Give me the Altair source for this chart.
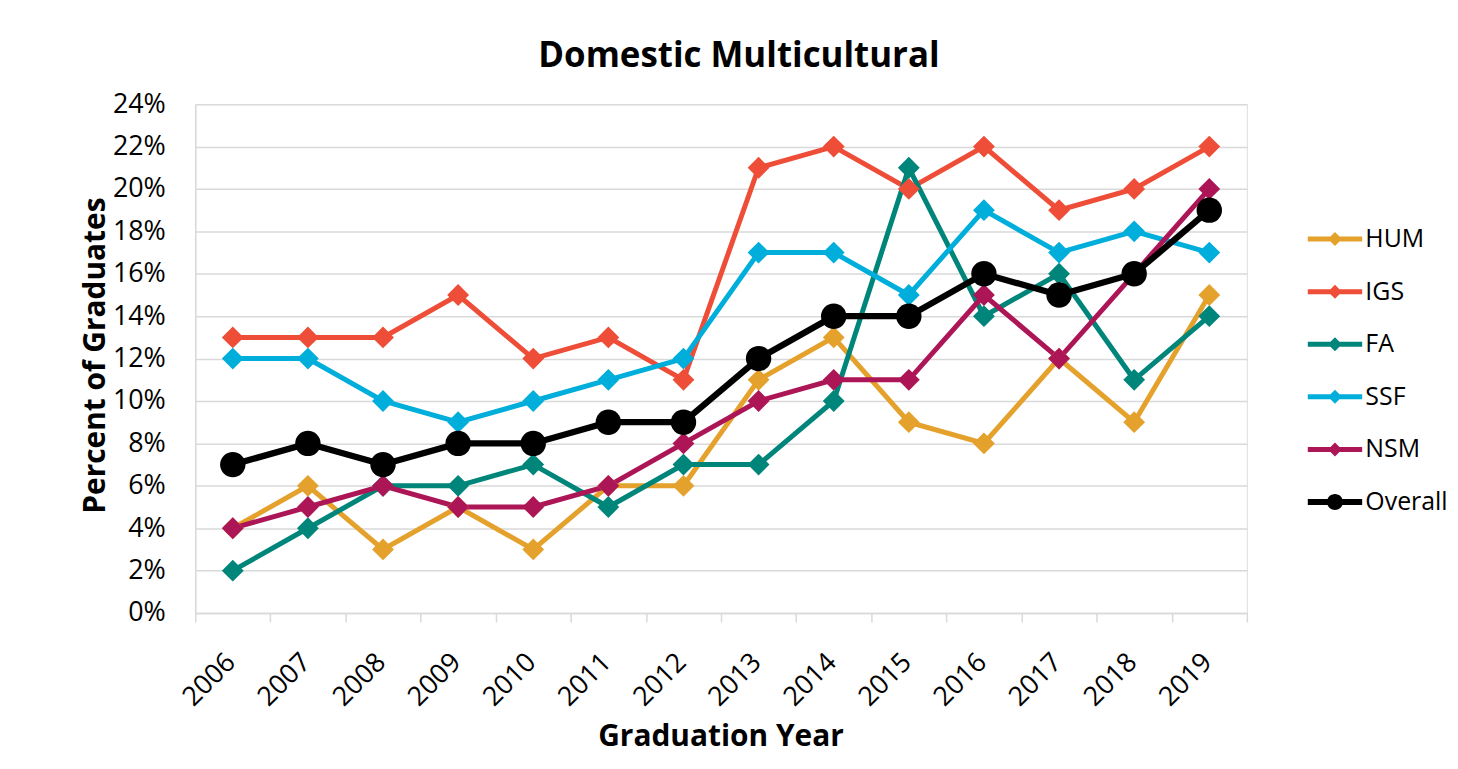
import altair as alt
import pandas as pd

years = [str(y) for y in range(2006, 2020)]
series_names = ["HUM", "IGS", "FA", "SSF", "NSM", "Overall"]
hum = [4, 6, 3, 5, 3, 6, 6, 11, 13, 9, 8, 12, 9, 15]
igs = [13, 13, 13, 15, 12, 13, 11, 21, 22, 20, 22, 19, 20, 22]
fa = [2, 4, 6, 6, 7, 5, 7, 7, 10, 21, 14, 16, 11, 14]
ssf = [12, 12, 10, 9, 10, 11, 12, 17, 17, 15, 19, 17, 18, 17]
nsm = [4, 5, 6, 5, 5, 6, 8, 10, 11, 11, 15, 12, 16, 20]
overall = [7, 8, 7, 8, 8, 9, 9, 12, 14, 14, 16, 15, 16, 19]
colors = ["#E4A12B", "#EE4D38", "#00857A", "#00AEDB", "#AD1656", "#000000"]
y_ticks = [0, 0.02, 0.04, 0.06, 0.08, 0.10, 0.12, 0.14, 0.16, 0.18, 0.20, 0.22, 0.24]

rows = []
for name, vals in zip(series_names, [hum, igs, fa, ssf, nsm, overall]):
    for yr, v in zip(years, vals):
        rows.append({"year": yr, "series": name, "value": v / 100})
df = pd.DataFrame(rows)

FONT = "Open Sans"
GRID = "#d9d9d9"

# legend symbol paths: line with a diamond / circle in the middle
diamond_path = "M-3.9,-0.36L3.9,-0.36L3.9,0.36L-3.9,0.36Z M0,-1L1,0L0,1L-1,0Z"
circle_path = ("M-3.9,-0.43L3.9,-0.43L3.9,0.43L-3.9,0.43Z "
               "M-1.15,0A1.15,1.15,0,1,1,1.15,0A1.15,1.15,0,1,1,-1.15,0Z")
legend_shapes = [diamond_path] * 5 + [circle_path]

legend = alt.Legend(
    title=None,
    orient="none",
    legendX=1132,
    legendY=123,
    labelFont=FONT,
    labelFontSize=25,
    labelColor="#000000",
    labelLimit=300,
    rowPadding=26.8,
    symbolSize=196,
    symbolOpacity=1,
    symbolStrokeWidth=0,
    labelOffset=18,
)

color_scale = alt.Scale(domain=series_names, range=colors)

x = alt.X(
    "year:O",
    scale=alt.Scale(type="band", paddingInner=0, paddingOuter=0),
    bandPosition=0.5,
    axis=alt.Axis(
        title="Graduation Year",
        labelAngle=315,
        labelAlign="right",
        labelBaseline="middle",
        labelPadding=36,
        labelOffset=-2,
        labelFont=FONT,
        labelFontSize=27,
        labelColor="#000000",
        tickBand="extent",
        ticks=True,
        tickSize=9,
        tickColor=GRID,
        tickWidth=1.5,
        domainColor=GRID,
        domainWidth=1.5,
        grid=False,
        titleFont=FONT,
        titleFontSize=30,
        titleFontWeight="bold",
        titleColor="#000000",
        titleBaseline="alphabetic",
        titleX=527.5,
        titleY=133,
    ),
)

y = alt.Y(
    "value:Q",
    scale=alt.Scale(domain=[0, 0.24], nice=False),
    axis=alt.Axis(
        title="Percent of Graduates",
        values=y_ticks,
        format=".0%",
        labelFont=FONT,
        labelFontSize=27,
        labelColor="#000000",
        labelPadding=30,
        ticks=False,
        domainColor=GRID,
        domainWidth=1.5,
        grid=True,
        gridColor=GRID,
        gridWidth=1.5,
        titleFont=FONT,
        titleFontSize=30,
        titleFontWeight="bold",
        titleColor="#000000",
        titleAngle=270,
        titleBaseline="alphabetic",
        titleX=-91,
        titleY=252,
    ),
)

is_overall = "datum.series === 'Overall'"

legend_layer = alt.Chart(df).mark_point(filled=True, opacity=0, size=196).encode(
    x=x,
    y=y,
    color=alt.Color("series:N", scale=color_scale, sort=series_names, legend=legend),
    shape=alt.Shape("series:N", scale=alt.Scale(domain=series_names, range=legend_shapes),
                    sort=series_names, legend=legend),
)

lines = alt.Chart(df).mark_line(strokeJoin="miter", strokeCap="butt").encode(
    x=x,
    y=y,
    color=alt.Color("series:N", scale=color_scale, sort=series_names, legend=None),
    strokeWidth=alt.condition(is_overall, alt.value(6.3), alt.value(5)),
)

points = alt.Chart(df).mark_point(filled=True, opacity=1).encode(
    x=x,
    y=y,
    color=alt.Color("series:N", scale=color_scale, sort=series_names, legend=None),
    shape=alt.condition(is_overall, alt.value("circle"), alt.value("diamond")),
    size=alt.condition(is_overall, alt.value(650), alt.value(480)),
)

chart = (
    alt.layer(legend_layer, lines, points)
    .properties(
        width=1056,
        height=511,
        padding={"left": 188, "top": 95, "right": 204, "bottom": 140},
        autosize=alt.AutoSizeParams(type="none"),
        title=alt.Title(
            "Domestic Multicultural",
            font=FONT,
            fontSize=35,
            fontWeight="bold",
            color="#000000",
            anchor="middle",
            offset=16,
            dx=18,
        ),
    )
    .configure_view(stroke=None)
    .configure(background="#ffffff")
)

chart.save("out.html", embed_options={"renderer": "svg", "actions": False})
